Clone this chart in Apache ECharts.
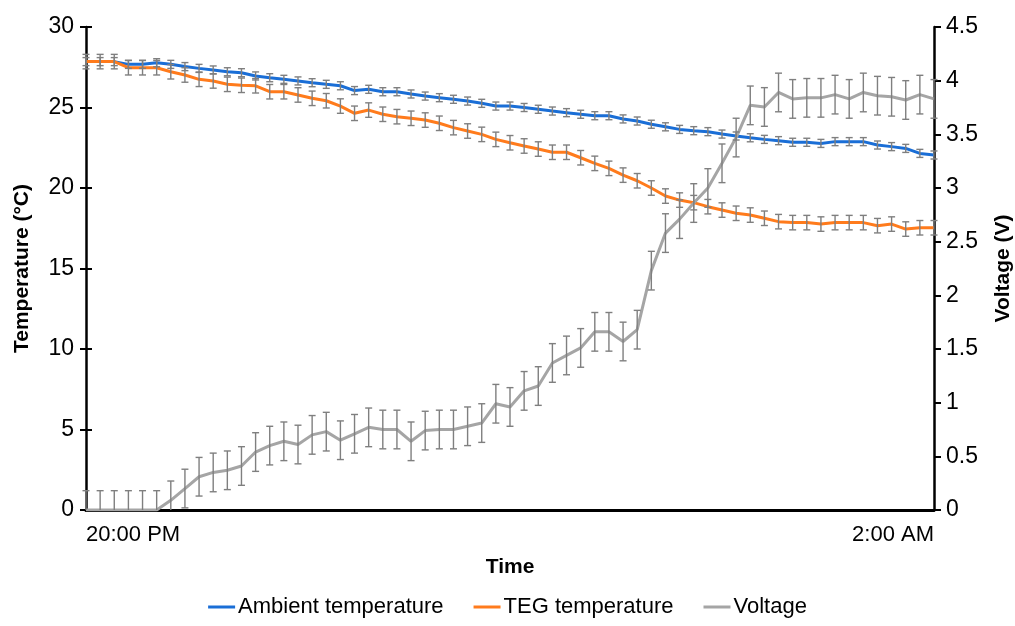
<!DOCTYPE html>
<html>
<head>
<meta charset="utf-8">
<script src="https://cdn.jsdelivr.net/npm/echarts@6/dist/echarts.min.js"></script>
<style>
html,body{margin:0;padding:0;background:#fff;}
#chart{width:1015px;height:626px;}
</style>
</head>
<body>
<div id="chart"></div>
<script>
// ---- data ----
const xTickLabels = ['20:00 PM', '2:00 AM'];

const ambientTemp = [
  27.85, 27.85, 27.85, 27.68, 27.68, 27.78, 27.68, 27.54, 27.43, 27.33,
  27.22, 27.16, 26.96, 26.85, 26.75, 26.65, 26.54, 26.44, 26.35, 26.05,
  26.13, 25.98, 25.98, 25.84, 25.71, 25.61, 25.51, 25.40, 25.26, 25.09,
  25.09, 25.00, 24.89, 24.78, 24.68, 24.58, 24.49, 24.49, 24.29, 24.16,
  23.96, 23.80, 23.64, 23.56, 23.50, 23.35, 23.23, 23.12, 23.02, 22.94,
  22.84, 22.84, 22.77, 22.88, 22.88, 22.88, 22.67, 22.57, 22.46, 22.15,
  22.05
];
const tegTemp = [
  27.85, 27.85, 27.85, 27.47, 27.47, 27.47, 27.22, 27.02, 26.75, 26.65,
  26.44, 26.38, 26.35, 25.98, 25.98, 25.78, 25.57, 25.42, 25.09, 24.64,
  24.84, 24.58, 24.43, 24.33, 24.22, 24.02, 23.75, 23.54, 23.33, 23.02,
  22.81, 22.61, 22.42, 22.22, 22.22, 21.88, 21.53, 21.22, 20.80, 20.45,
  20.00, 19.50, 19.25, 19.09, 18.84, 18.63, 18.43, 18.32, 18.12, 17.91,
  17.85, 17.85, 17.76, 17.85, 17.85, 17.85, 17.66, 17.76, 17.45, 17.53,
  17.53
];
const voltage = [
  0, 0, 0, 0, 0, 0, 0.09, 0.20, 0.31, 0.35,
  0.37, 0.41, 0.54, 0.60, 0.64, 0.61, 0.70, 0.73, 0.65, 0.71,
  0.77, 0.75, 0.75, 0.64, 0.74, 0.75, 0.75, 0.78, 0.81, 0.99,
  0.96, 1.11, 1.155, 1.37, 1.44, 1.51, 1.66, 1.66, 1.57, 1.68,
  2.23, 2.58, 2.71, 2.86, 3.00, 3.23, 3.47, 3.77, 3.755, 3.89,
  3.83, 3.84, 3.84, 3.87, 3.83, 3.89, 3.86, 3.85, 3.82, 3.87,
  3.83
];
// error bar half-widths (uniform in the picture)
const ambientErr = 0.25;
const tegErr = 0.45;
const voltageErr = 0.18;

// ---- build ----
const categories = ambientTemp.map((_, i) => i);
const lastIdx = categories.length - 1;

function errData(values, err) {
  return values.map((v, i) => [i, v - err, v + err]);
}

function makeErrRender(axisMin) {
  return function (params, api) {
    const x = api.value(0);
    let lo = api.value(1);
    const hi = api.value(2);
    const clamped = lo < axisMin;
    if (clamped) lo = axisMin;
    const pLo = api.coord([x, lo]);
    const pHi = api.coord([x, hi]);
    const w = 3.5;
    const st = { stroke: '#7f7f7f', lineWidth: 1.4 };
    const children = [
      { type: 'line', shape: { x1: pHi[0], y1: pHi[1], x2: pLo[0], y2: pLo[1] }, style: st },
      { type: 'line', shape: { x1: pHi[0] - w, y1: pHi[1], x2: pHi[0] + w, y2: pHi[1] }, style: st }
    ];
    if (!clamped) {
      children.push({ type: 'line', shape: { x1: pLo[0] - w, y1: pLo[1], x2: pLo[0] + w, y2: pLo[1] }, style: st });
    }
    return { type: 'group', children: children };
  };
}

const FONT = '"Liberation Sans", Arial, sans-serif';
const axisLineStyle = { color: '#000', width: 2.5 };

const option = {
  backgroundColor: '#fff',
  animation: false,
  textStyle: { fontFamily: FONT },
  grid: { left: 86, right: 81, top: 27, bottom: 116, containLabel: false, outerBoundsMode: 'none' },
  legend: {
    bottom: 3,
    left: 'center',
    itemWidth: 27,
    itemHeight: 3,
    itemGap: 30,
    icon: 'rect',
    textStyle: { fontFamily: FONT, fontSize: 22, color: '#000', padding: [0, 0, 0, -2] },
    data: ['Ambient temperature', 'TEG temperature', 'Voltage']
  },
  xAxis: {
    type: 'category',
    data: categories,
    boundaryGap: false,
    axisLine: { lineStyle: { color: '#000', width: 3 } },
    axisTick: { show: false },
    axisLabel: {
      interval: function (idx) { return idx === 0 || idx === lastIdx; },
      formatter: function (val, idx) { return idx === 0 ? xTickLabels[0] : xTickLabels[1]; },
      alignMinLabel: 'left',
      alignMaxLabel: 'right',
      fontFamily: FONT,
      fontSize: 22,
      color: '#000',
      margin: 14
    },
    name: 'Time',
    nameLocation: 'middle',
    nameGap: 47,
    nameTextStyle: { fontFamily: FONT, fontSize: 21, fontWeight: 'bold', color: '#000' },
    splitLine: { show: false }
  },
  yAxis: [
    {
      type: 'value',
      position: 'left',
      min: 0, max: 30, interval: 5,
      axisLine: { show: true, lineStyle: axisLineStyle },
      axisTick: { show: true, inside: false, length: 6, lineStyle: { color: '#000', width: 2 } },
      axisLabel: { fontFamily: FONT, fontSize: 23, color: '#000', margin: 12 },
      splitLine: { show: false },
      name: 'Temperature (°C)',
      nameLocation: 'middle',
      nameRotate: 90,
      nameGap: 53,
      nameTextStyle: { fontFamily: FONT, fontSize: 21, fontWeight: 'bold', color: '#000' }
    },
    {
      type: 'value',
      position: 'right',
      min: 0, max: 4.5, interval: 0.5,
      axisLine: { show: true, lineStyle: axisLineStyle },
      axisTick: { show: true, inside: false, length: 7, lineStyle: { color: '#000', width: 2 } },
      axisLabel: { fontFamily: FONT, fontSize: 23, color: '#000', margin: 12 },
      splitLine: { show: false },
      name: 'Voltage (V)',
      nameLocation: 'middle',
      nameRotate: 90,
      nameGap: 59,
      nameTextStyle: { fontFamily: FONT, fontSize: 21, fontWeight: 'bold', color: '#000' }
    },
    {
      type: 'value',
      position: 'left',
      min: 0, max: 30, interval: 5,
      axisLine: { show: false },
      axisTick: { show: true, inside: true, length: 6, lineStyle: { color: '#000', width: 2 } },
      axisLabel: { show: false },
      splitLine: { show: false }
    }
  ],
  series: [
    {
      name: 'Ambient temperature',
      type: 'line',
      yAxisIndex: 0,
      data: ambientTemp,
      symbol: 'none',
      color: '#1a6ed6',
      lineStyle: { width: 3, color: '#1a6ed6' },
      z: 3
    },
    {
      name: 'TEG temperature',
      type: 'line',
      yAxisIndex: 0,
      data: tegTemp,
      symbol: 'none',
      color: '#ff7b1c',
      lineStyle: { width: 3, color: '#ff7b1c' },
      z: 3
    },
    {
      name: 'Voltage',
      type: 'line',
      yAxisIndex: 1,
      data: voltage,
      symbol: 'none',
      color: '#a5a5a5',
      lineStyle: { width: 3, color: '#a5a5a5' },
      z: 3
    },
    {
      type: 'custom',
      yAxisIndex: 0,
      renderItem: makeErrRender(0),
      data: errData(ambientTemp, ambientErr),
      encode: { x: 0, y: [1, 2] },
      silent: true,
      z: 4
    },
    {
      type: 'custom',
      yAxisIndex: 0,
      renderItem: makeErrRender(0),
      data: errData(tegTemp, tegErr),
      encode: { x: 0, y: [1, 2] },
      silent: true,
      z: 4
    },
    {
      type: 'custom',
      yAxisIndex: 1,
      renderItem: makeErrRender(0),
      data: errData(voltage, voltageErr),
      encode: { x: 0, y: [1, 2] },
      silent: true,
      z: 4
    }
  ]
};

const chart = echarts.init(document.getElementById('chart'), null, { renderer: 'canvas' });
chart.setOption(option);
</script>
</body>
</html>
